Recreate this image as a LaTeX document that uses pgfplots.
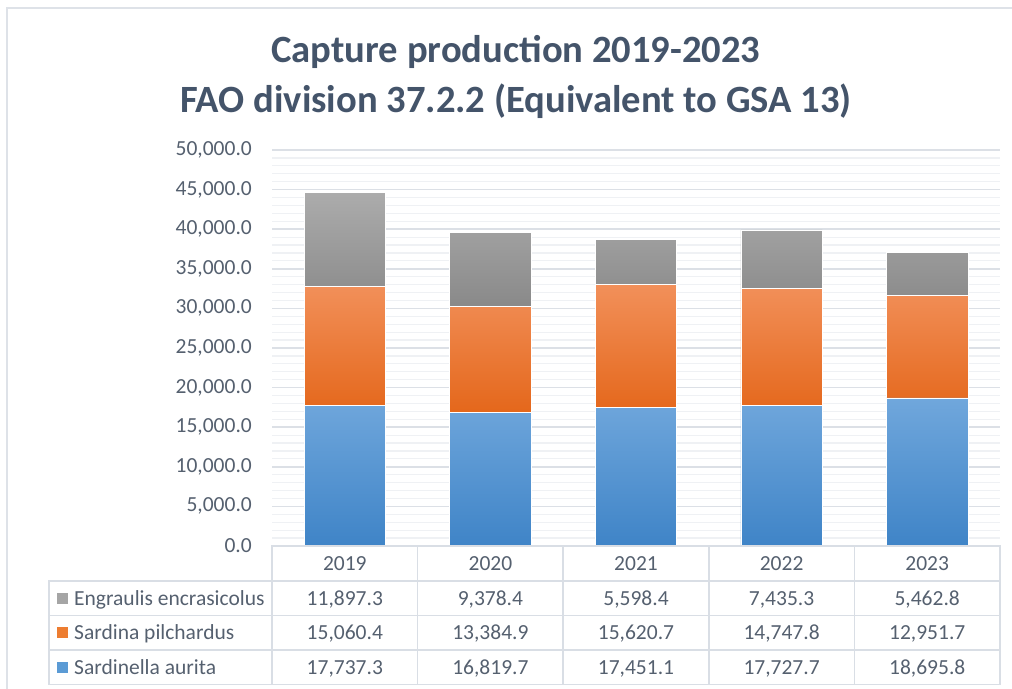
\documentclass[border=0pt]{standalone}
\usepackage{pgfplots}
\pgfplotsset{compat=1.18}
\usepackage{fontspec}
\setmainfont{Carlito}
\definecolor{titlec}{HTML}{44546A}
\definecolor{txt}{HTML}{55606F}
\definecolor{gridmaj}{HTML}{DCE0E6}
\definecolor{gridmin}{HTML}{EFF1F4}
\definecolor{framec}{HTML}{DEE2E8}
\definecolor{tbl}{HTML}{D9DEE5}
\definecolor{bluet}{HTML}{70A7DC}
\definecolor{blueb}{HTML}{3F84C7}
\definecolor{bluem}{HTML}{5B9BD5}
\definecolor{oranget}{HTML}{F2905A}
\definecolor{orangeb}{HTML}{E4671B}
\definecolor{orangem}{HTML}{ED7D31}
\definecolor{grayt}{HTML}{ACACAC}
\definecolor{grayb}{HTML}{898989}
\definecolor{graym}{HTML}{A5A5A5}
\newcommand{\tf}{\fontsize{21.5bp}{24bp}\selectfont}
\begin{document}
\begin{tikzpicture}[x=1bp,y=1bp]
\useasboundingbox (0,0) rectangle (1012,689);
\draw[framec, line width=1.5bp] (7,0) -- (7,681) -- (1012,681);
\node[font=\fontsize{38.6bp}{50bp}\selectfont\bfseries, text=titlec, align=center] at (516,612) {Capture production 2019-2023\\FAO division 37.2.2 (Equivalent to GSA 13)};
\begin{axis}[
  at={(272bp,143bp)}, anchor=south west,
  scale only axis, width=728bp, height=396bp,
  ymin=0, ymax=50000, xmin=-0.5, xmax=4.5,
  ybar stacked, bar width=0.56,
  axis line style={draw=none},
  major tick length=0, minor tick length=0,
  scaled ticks=false,
  ytick={0,5000,...,50000}, minor y tick num=4,
  ymajorgrids, yminorgrids,
  major grid style={gridmaj, line width=1.5bp},
  minor grid style={gridmin, line width=1.2bp},
  xtick={0,1,2,3,4}, xticklabels={2019,2020,2021,2022,2023},
  yticklabel style={font=\tf, text=txt, inner sep=0pt, xshift=-20bp},
  xticklabel style={font=\tf, text=txt, anchor=base, yshift=-25bp},
  /pgf/number format/.cd, fixed, fixed zerofill, precision=1, 1000 sep={,}, assume math mode=true,
]
\addplot[draw=white, line width=0.6bp, top color=bluet, bottom color=blueb] coordinates {(0,17737.3) (1,16819.7) (2,17451.1) (3,17727.7) (4,18695.8)};
\addplot[draw=white, line width=0.6bp, top color=oranget, bottom color=orangeb] coordinates {(0,15060.4) (1,13384.9) (2,15620.7) (3,14747.8) (4,12951.7)};
\addplot[draw=white, line width=0.6bp, top color=grayt, bottom color=grayb] coordinates {(0,11897.3) (1,9378.4) (2,5598.4) (3,7435.3) (4,5462.8)};
\end{axis}
% data table
\begin{scope}[tbl, line width=1.5bp]
\draw (272,143) rectangle (1000,4.5);
\draw (49,108) rectangle (272,4.5);
\foreach \x in {417.6,563.2,708.8,854.4} \draw (\x,143) -- (\x,4.5);
\foreach \y in {108,73.5,39} \draw (49,\y) -- (1000,\y);
\end{scope}
\fill[graym] (57,85.25) rectangle (68,96.25);
\fill[orangem] (57,50.75) rectangle (68,61.75);
\fill[bluem] (57,16.25) rectangle (68,27.25);
\begin{scope}[every node/.style={font=\tf, text=txt, inner sep=0pt}]
\node[anchor=base west] at (74,83.75) {Engraulis encrasicolus};
\node[anchor=base west] at (74,49.25) {Sardina pilchardus};
\node[anchor=base west] at (74,14.75) {Sardinella aurita};
\foreach \x/\a/\b/\c in {344.8/{11,897.3}/{15,060.4}/{17,737.3}, 490.4/{9,378.4}/{13,384.9}/{16,819.7}, 636/{5,598.4}/{15,620.7}/{17,451.1}, 781.6/{7,435.3}/{14,747.8}/{17,727.7}, 927.2/{5,462.8}/{12,951.7}/{18,695.8}}{
  \node[anchor=base] at (\x,83.75) {\a};
  \node[anchor=base] at (\x,49.25) {\b};
  \node[anchor=base] at (\x,14.75) {\c};
}
\end{scope}
\end{tikzpicture}
\end{document}
